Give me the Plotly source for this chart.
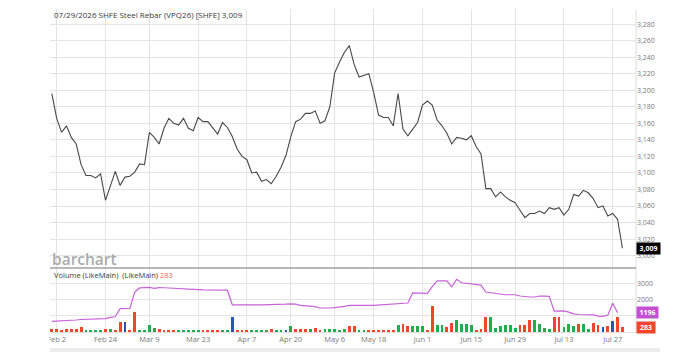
import plotly.graph_objects as go

# ---- data (one value per trading day, Jan 30 .. Jul 29) ----
price = [3196, 3166, 3149, 3157, 3143, 3135, 3110, 3097, 3097, 3094,
         3099, 3067, 3084, 3102, 3085, 3095, 3096, 3101, 3111, 3110,
         3149, 3143, 3135, 3154, 3166, 3160, 3158, 3166, 3154, 3151,
         3167, 3162, 3162, 3155, 3147, 3161, 3155, 3144, 3129, 3120,
         3116, 3100, 3101, 3090, 3092, 3087, 3096, 3107, 3121, 3144,
         3162, 3165, 3172, 3172, 3175, 3160, 3163, 3180, 3221, 3234,
         3246, 3254, 3231, 3216, 3218, 3220, 3197, 3170, 3167, 3167,
         3157, 3196, 3153, 3145, 3153, 3161, 3182, 3187, 3182, 3164,
         3157, 3148, 3135, 3143, 3142, 3140, 3145, 3132, 3123, 3081,
         3081, 3071, 3077, 3071, 3067, 3064, 3055, 3046, 3051, 3051,
         3054, 3051, 3058, 3056, 3058, 3049, 3056, 3074, 3072, 3079,
         3076, 3069, 3058, 3060, 3048, 3051, 3044, 3009]

volume = [160, 160, 110, 160, 160, 160, 280, 110, 110, 110,
          110, 180, 180, 110, 620, 620, 110, 1240, 110, 110,
          420, 270, 180, 150, 150, 110, 110, 150, 110, 110,
          150, 150, 110, 110, 110, 110, 110, 940, 110, 110,
          110, 70, 70, 70, 110, 210, 110, 110, 110, 350,
          210, 180, 180, 180, 270, 110, 210, 210, 210, 150,
          180, 350, 390, 110, 110, 110, 150, 70, 70, 150,
          150, 410, 480, 350, 350, 350, 350, 150, 1600, 410,
          410, 310, 560, 770, 480, 480, 410, 150, 210, 940,
          940, 250, 350, 410, 410, 270, 410, 410, 720, 720,
          520, 270, 210, 940, 940, 310, 480, 350, 520, 480,
          210, 580, 410, 310, 350, 690, 940, 283]

bar_dir = ["r", "r", "r", "r", "r", "r", "r", "g", "g", "g",
           "g", "r", "g", "r", "r", "b", "r", "r", "g", "g",
           "g", "g", "r", "r", "r", "r", "g", "g", "g", "g",
           "g", "r", "r", "r", "r", "g", "g", "b", "r", "r",
           "r", "g", "g", "g", "g", "r", "g", "g", "b", "g",
           "r", "r", "r", "g", "r", "r", "g", "g", "g", "g",
           "g", "r", "r", "g", "g", "r", "r", "r", "r", "r",
           "r", "g", "r", "r", "g", "g", "g", "r", "r", "g",
           "g", "r", "r", "g", "g", "g", "g", "r", "r", "r",
           "g", "g", "g", "g", "g", "g", "r", "r", "r", "g",
           "g", "g", "g", "r", "r", "g", "g", "g", "r", "g",
           "g", "r", "r", "b", "r", "b", "r", "r"]

open_interest = [650, 660, 670, 680, 700, 740, 770, 790, 800, 810,
                 820, 830, 900, 940, 1440, 1450, 1460, 2470, 2720, 2740,
                 2750, 2690, 2740, 2730, 2720, 2700, 2690, 2680, 2660, 2640,
                 2620, 2600, 2590, 2590, 2590, 2590, 2580, 1680, 1670, 1660,
                 1650, 1640, 1670, 1680, 1680, 1680, 1690, 1700, 1720, 1740,
                 1720, 1640, 1630, 1620, 1570, 1480, 1470, 1480, 1500, 1520,
                 1580, 1640, 1650, 1650, 1640, 1640, 1640, 1660, 1720, 1740,
                 1720, 1760, 1780, 1790, 2410, 2400, 2350, 2380, 2800, 3160,
                 3160, 3160, 2790, 3250, 3040, 3000, 2950, 2920, 2890, 2470,
                 2430, 2400, 2330, 2300, 2300, 2300, 2220, 2180, 2160, 2160,
                 2220, 2210, 2200, 1290, 1300, 1300, 1230, 1120, 1080, 1060,
                 1050, 1060, 980, 970, 1040, 1780, 1196]

tick_pos = [1, 11, 20, 30, 40, 49, 58, 66, 76, 86, 95, 105, 115]
tick_text = ["Feb 2", "Feb 24", "Mar 9", "Mar 23", "Apr 7", "Apr 20", "May 6",
             "May 18", "Jun 1", "Jun 15", "Jun 29", "Jul 13", "Jul 27"]

price_ticks = list(range(3000, 3281, 20))
vol_ticks = [0, 1000, 2000, 3000]
vol_tick_text = ["", "", "2000", "3000"]   # lower labels sit under the value boxes

# ---- styling ----
COL = {"r": "#f2462b", "g": "#1fae4d", "b": "#2a55b4"}
GRID = "#e4e4e4"
TICKC = "#7a7a7a"
FONT = "Open Sans"

x = list(range(len(price)))

fig = go.Figure()
fig.add_trace(go.Scatter(x=x, y=price, mode="lines",
                         line=dict(color="#484848", width=1.1),
                         xaxis="x", yaxis="y", hoverinfo="skip"))
fig.add_trace(go.Bar(x=x, y=volume, marker=dict(color=[COL[c] for c in bar_dir], line_width=0),
                     width=0.58, xaxis="x", yaxis="y2", hoverinfo="skip"))
fig.add_trace(go.Scatter(x=x[:len(open_interest)], y=open_interest, mode="lines",
                         line=dict(color="#c862d8", width=1.2),
                         xaxis="x", yaxis="y2", hoverinfo="skip"))

W, H = 689, 352
L, R, T, B = 50, 53, 9, 20
ph = H - T - B
split = (332 - 268) / ph

fig.update_layout(
    width=W, height=H,
    margin=dict(l=L, r=R, t=T, b=B),
    paper_bgcolor="white", plot_bgcolor="white",
    showlegend=False, bargap=0,
    font=dict(family=FONT, size=8, color=TICKC),
    xaxis=dict(range=[-0.374, 119.78], anchor="y2", tickvals=tick_pos, ticktext=tick_text,
               showgrid=True, gridcolor=GRID, gridwidth=1, zeroline=False,
               showline=True, linecolor="#e0e0e0", ticks="",
               tickfont=dict(size=7.5, color=TICKC, family=FONT)),
    yaxis=dict(domain=[split, 1], range=[2985.1, 3298.2], side="right", anchor="x",
               tickvals=price_ticks, ticktext=[f"{v:,}" for v in price_ticks],
               showgrid=True, gridcolor=GRID, gridwidth=1.3, zeroline=False, ticks="",
               tickfont=dict(size=7, color=TICKC, family=FONT)),
    yaxis2=dict(domain=[0, split], range=[0, 3950], side="right", anchor="x",
                tickvals=vol_ticks, ticktext=vol_tick_text,
                showgrid=True, gridcolor=GRID, gridwidth=1, zeroline=False, ticks="",
                tickfont=dict(size=7, color=TICKC, family=FONT)),
)

shapes = [
    dict(type="line", xref="paper", yref="paper", x0=1, x1=1, y0=0, y1=1,
         line=dict(color="#dcdcdc", width=1)),
    dict(type="line", xref="paper", yref="paper", x0=0, x1=1, y0=split, y1=split,
         line=dict(color="#a0a0a0", width=1.5)),
    dict(type="rect", xref="paper", yref="paper", x0=0, x1=(660 - L) / (W - L - R),
         y0=(332 - 352) / ph, y1=(332 - 348) / ph, fillcolor="#ececec", line_width=0,
         layer="above"),
    dict(type="rect", xref="paper", yref="paper", x0=-0.09, x1=(49 - L) / (W - L - R),
         y0=(332 - 347) / ph, y1=-0.001, fillcolor="white", line_width=0, layer="above"),
]
fig.update_layout(shapes=shapes)

px_x = lambda p: (p - L) / (W - L - R)
px_y = lambda p: (332 - p) / ph

annotations = [
    dict(text="07/29/2026 SHFE Steel Rebar (VPQ26) [SHFE] 3,009", xref="paper", yref="paper",
         x=px_x(52), y=px_y(15), xanchor="left", yanchor="middle", showarrow=False,
         font=dict(size=8, color="#3a3a3a", family=FONT)),
    dict(text="barchart", xref="paper", yref="paper", x=px_x(50), y=px_y(259),
         xanchor="left", yanchor="middle", showarrow=False,
         font=dict(size=15.5, color="#ababab", family=FONT, weight=600)),
    dict(text='Volume (LikeMain)  (LikeMain) <span style="color:#f26a50">283</span>',
         xref="paper", yref="paper", x=px_x(52), y=px_y(275), xanchor="left",
         yanchor="middle", showarrow=False, font=dict(size=7.5, color="#3a3a3a", family=FONT)),
    dict(text="<b>3,009</b>", xref="paper", yref="y", x=1, y=price[-1], xanchor="left",
         yanchor="middle", showarrow=False, bgcolor="#000000", width=21, height=9,
         borderpad=1, font=dict(size=7, color="white", family=FONT)),
    dict(text="<b>1196</b>", xref="paper", yref="y2", x=1, y=open_interest[-1], xanchor="left",
         yanchor="middle", showarrow=False, bgcolor="#c64fd6", width=19, height=9,
         borderpad=1, font=dict(size=7, color="white", family=FONT)),
    dict(text="<b>283</b>", xref="paper", yref="y2", x=1, y=volume[-1], xanchor="left",
         yanchor="middle", showarrow=False, bgcolor="#f2462b", width=16, height=9,
         borderpad=1, font=dict(size=7, color="white", family=FONT)),
]
fig.update_layout(annotations=annotations)

fig.write_html("out.html")
